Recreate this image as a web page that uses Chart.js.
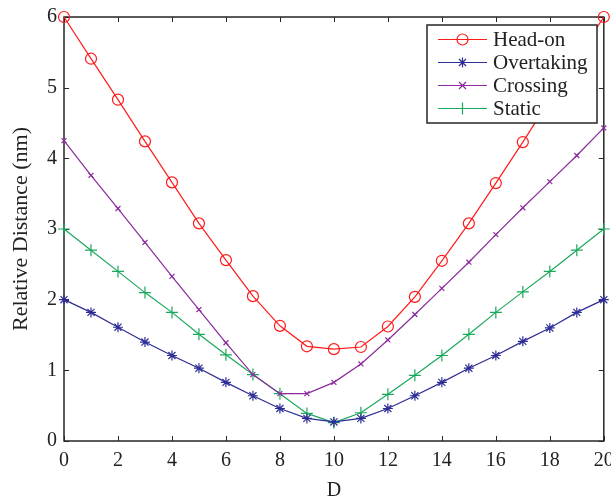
<!DOCTYPE html>
<html>
<head>
<meta charset="utf-8">
<script src="https://cdn.jsdelivr.net/npm/chart.js@4.4.1/dist/chart.umd.min.js"></script>
<style>
  html, body { margin: 0; padding: 0; background: #fff; }
  #wrap { width: 611px; height: 501px; position: relative; }
</style>
</head>
<body>
<div id="wrap"><canvas id="c" width="611" height="501"></canvas></div>
<script>
const xValues = [0,1,2,3,4,5,6,7,8,9,10,11,12,13,14,15,16,17,18,19,20];
const headOn     = [6.00, 5.41, 4.83, 4.24, 3.66, 3.08, 2.56, 2.05, 1.63, 1.34, 1.30, 1.33, 1.62, 2.04, 2.55, 3.08, 3.65, 4.23, 4.83, 5.41, 6.00];
const overtaking = [2.00, 1.82, 1.61, 1.40, 1.21, 1.03, 0.83, 0.64, 0.46, 0.32, 0.27, 0.32, 0.46, 0.64, 0.83, 1.03, 1.21, 1.41, 1.60, 1.82, 2.00];
const crossing   = [4.25, 3.76, 3.29, 2.81, 2.33, 1.86, 1.39, 0.94, 0.67, 0.67, 0.83, 1.09, 1.43, 1.79, 2.16, 2.53, 2.92, 3.30, 3.67, 4.04, 4.43];
const staticEnc  = [3.00, 2.70, 2.40, 2.10, 1.82, 1.51, 1.22, 0.94, 0.67, 0.39, 0.26, 0.40, 0.66, 0.93, 1.21, 1.51, 1.82, 2.11, 2.40, 2.70, 3.00];
const seriesNames = ['Head-on', 'Overtaking', 'Crossing', 'Static'];
const xTitle = 'D';
const yTitle = 'Relative Distance (nm)';

const FONT = '"Liberation Serif", "Times New Roman", serif';
const AXIS_COLOR = '#262626';

function pts(arr) { return arr.map((v, i) => ({ x: xValues[i], y: v })); }

const styles = [
  { color: '#ff1a1a', pointStyle: 'circle', radius: 5.5 },
  { color: '#2d2d96', pointStyle: 'star', radius: 5 },
  { color: '#8a2c9c', pointStyle: 'crossRot', radius: 3.5 },
  { color: '#1aa85c', pointStyle: 'cross', radius: 6 }
];
const values = [headOn, overtaking, crossing, staticEnc];

const datasets = values.map((arr, i) => ({
  label: seriesNames[i],
  data: pts(arr),
  borderColor: styles[i].color,
  backgroundColor: 'rgba(0,0,0,0)',
  borderWidth: 1.2,
  pointStyle: styles[i].pointStyle,
  pointRadius: styles[i].radius,
  pointBorderWidth: 1.2,
  pointBorderColor: styles[i].color,
  pointBackgroundColor: 'rgba(0,0,0,0)',
  tension: 0,
  clip: false
}));

const framePlugin = {
  id: 'frame',
  beforeDatasetsDraw(chart) {
    const { ctx, chartArea: a, scales } = chart;
    ctx.save();
    ctx.strokeStyle = AXIS_COLOR;
    ctx.lineWidth = 1.5;
    ctx.strokeRect(a.left, a.top, a.right - a.left, a.bottom - a.top);
    ctx.lineWidth = 1;
    const tl = 5;
    scales.x.ticks.forEach(t => {
      const px = Math.round(scales.x.getPixelForValue(t.value)) + 0.5;
      ctx.beginPath();
      ctx.moveTo(px, a.bottom); ctx.lineTo(px, a.bottom - tl);
      ctx.moveTo(px, a.top); ctx.lineTo(px, a.top + tl);
      ctx.stroke();
    });
    scales.y.ticks.forEach(t => {
      const py = Math.round(scales.y.getPixelForValue(t.value)) + 0.5;
      ctx.beginPath();
      ctx.moveTo(a.left, py); ctx.lineTo(a.left + tl, py);
      ctx.moveTo(a.right, py); ctx.lineTo(a.right - tl, py);
      ctx.stroke();
    });
    ctx.restore();
  }
};

function drawMarker(ctx, style, x, y, r) {
  ctx.beginPath();
  if (style === 'circle') {
    ctx.arc(x, y, r, 0, Math.PI * 2);
  } else if (style === 'cross') {
    ctx.moveTo(x - r, y); ctx.lineTo(x + r, y);
    ctx.moveTo(x, y - r); ctx.lineTo(x, y + r);
  } else if (style === 'crossRot') {
    ctx.moveTo(x - r, y - r); ctx.lineTo(x + r, y + r);
    ctx.moveTo(x - r, y + r); ctx.lineTo(x + r, y - r);
  } else if (style === 'star') {
    ctx.moveTo(x - r, y); ctx.lineTo(x + r, y);
    ctx.moveTo(x, y - r); ctx.lineTo(x, y + r);
    const d = r * 0.7071;
    ctx.moveTo(x - d, y - d); ctx.lineTo(x + d, y + d);
    ctx.moveTo(x - d, y + d); ctx.lineTo(x + d, y - d);
  }
  ctx.stroke();
}

const legendPlugin = {
  id: 'boxLegend',
  afterDatasetsDraw(chart) {
    const { ctx } = chart;
    const left = 427, top = 25, w = 170, h = 98;
    ctx.save();
    ctx.fillStyle = '#fff';
    ctx.fillRect(left, top, w, h);
    ctx.strokeStyle = AXIS_COLOR;
    ctx.lineWidth = 1.5;
    ctx.strokeRect(left, top, w, h);
    const rowY = [39.5, 62.5, 85.5, 108.5];
    ctx.font = '21px ' + FONT;
    ctx.textBaseline = 'middle';
    ctx.textAlign = 'left';
    chart.data.datasets.forEach((ds, i) => {
      const y = rowY[i];
      ctx.strokeStyle = ds.borderColor;
      ctx.lineWidth = 1.2;
      ctx.beginPath();
      ctx.moveTo(438, y); ctx.lineTo(487, y);
      ctx.stroke();
      drawMarker(ctx, ds.pointStyle, 462.5, y, ds.pointRadius);
      ctx.fillStyle = '#222';
      ctx.fillText(ds.label, 493, y + 1);
    });
    ctx.restore();
  }
};

new Chart(document.getElementById('c'), {
  type: 'line',
  data: { datasets },
  options: {
    responsive: false,
    animation: false,
    layout: { padding: { top: 17, right: 7, left: 0, bottom: 0 } },
    plugins: { legend: { display: false }, tooltip: { enabled: false } },
    scales: {
      x: {
        type: 'linear', min: 0, max: 20,
        grid: { display: false, drawTicks: false },
        border: { display: false },
        ticks: { stepSize: 2, color: '#222', font: { family: FONT, size: 20 }, padding: 8, maxRotation: 0, autoSkip: false },
        title: { display: true, text: xTitle, color: '#222', font: { family: FONT, size: 20, lineHeight: 1.0 }, padding: { top: 0, bottom: 0 } },
        afterFit(s) { s.height = 60; s.paddingLeft = 0; s.paddingRight = 0; }
      },
      y: {
        min: 0, max: 6,
        grid: { display: false, drawTicks: false },
        border: { display: false },
        ticks: { stepSize: 1, color: '#222', font: { family: FONT, size: 20 }, padding: 7 },
        title: { display: true, text: yTitle, color: '#222', font: { family: FONT, size: 22 }, padding: { top: 8, bottom: 0 } },
        afterFit(s) { s.width = 64; s.paddingTop = 0; s.paddingBottom = 0; }
      }
    }
  },
  plugins: [framePlugin, legendPlugin]
});
</script>
</body>
</html>
